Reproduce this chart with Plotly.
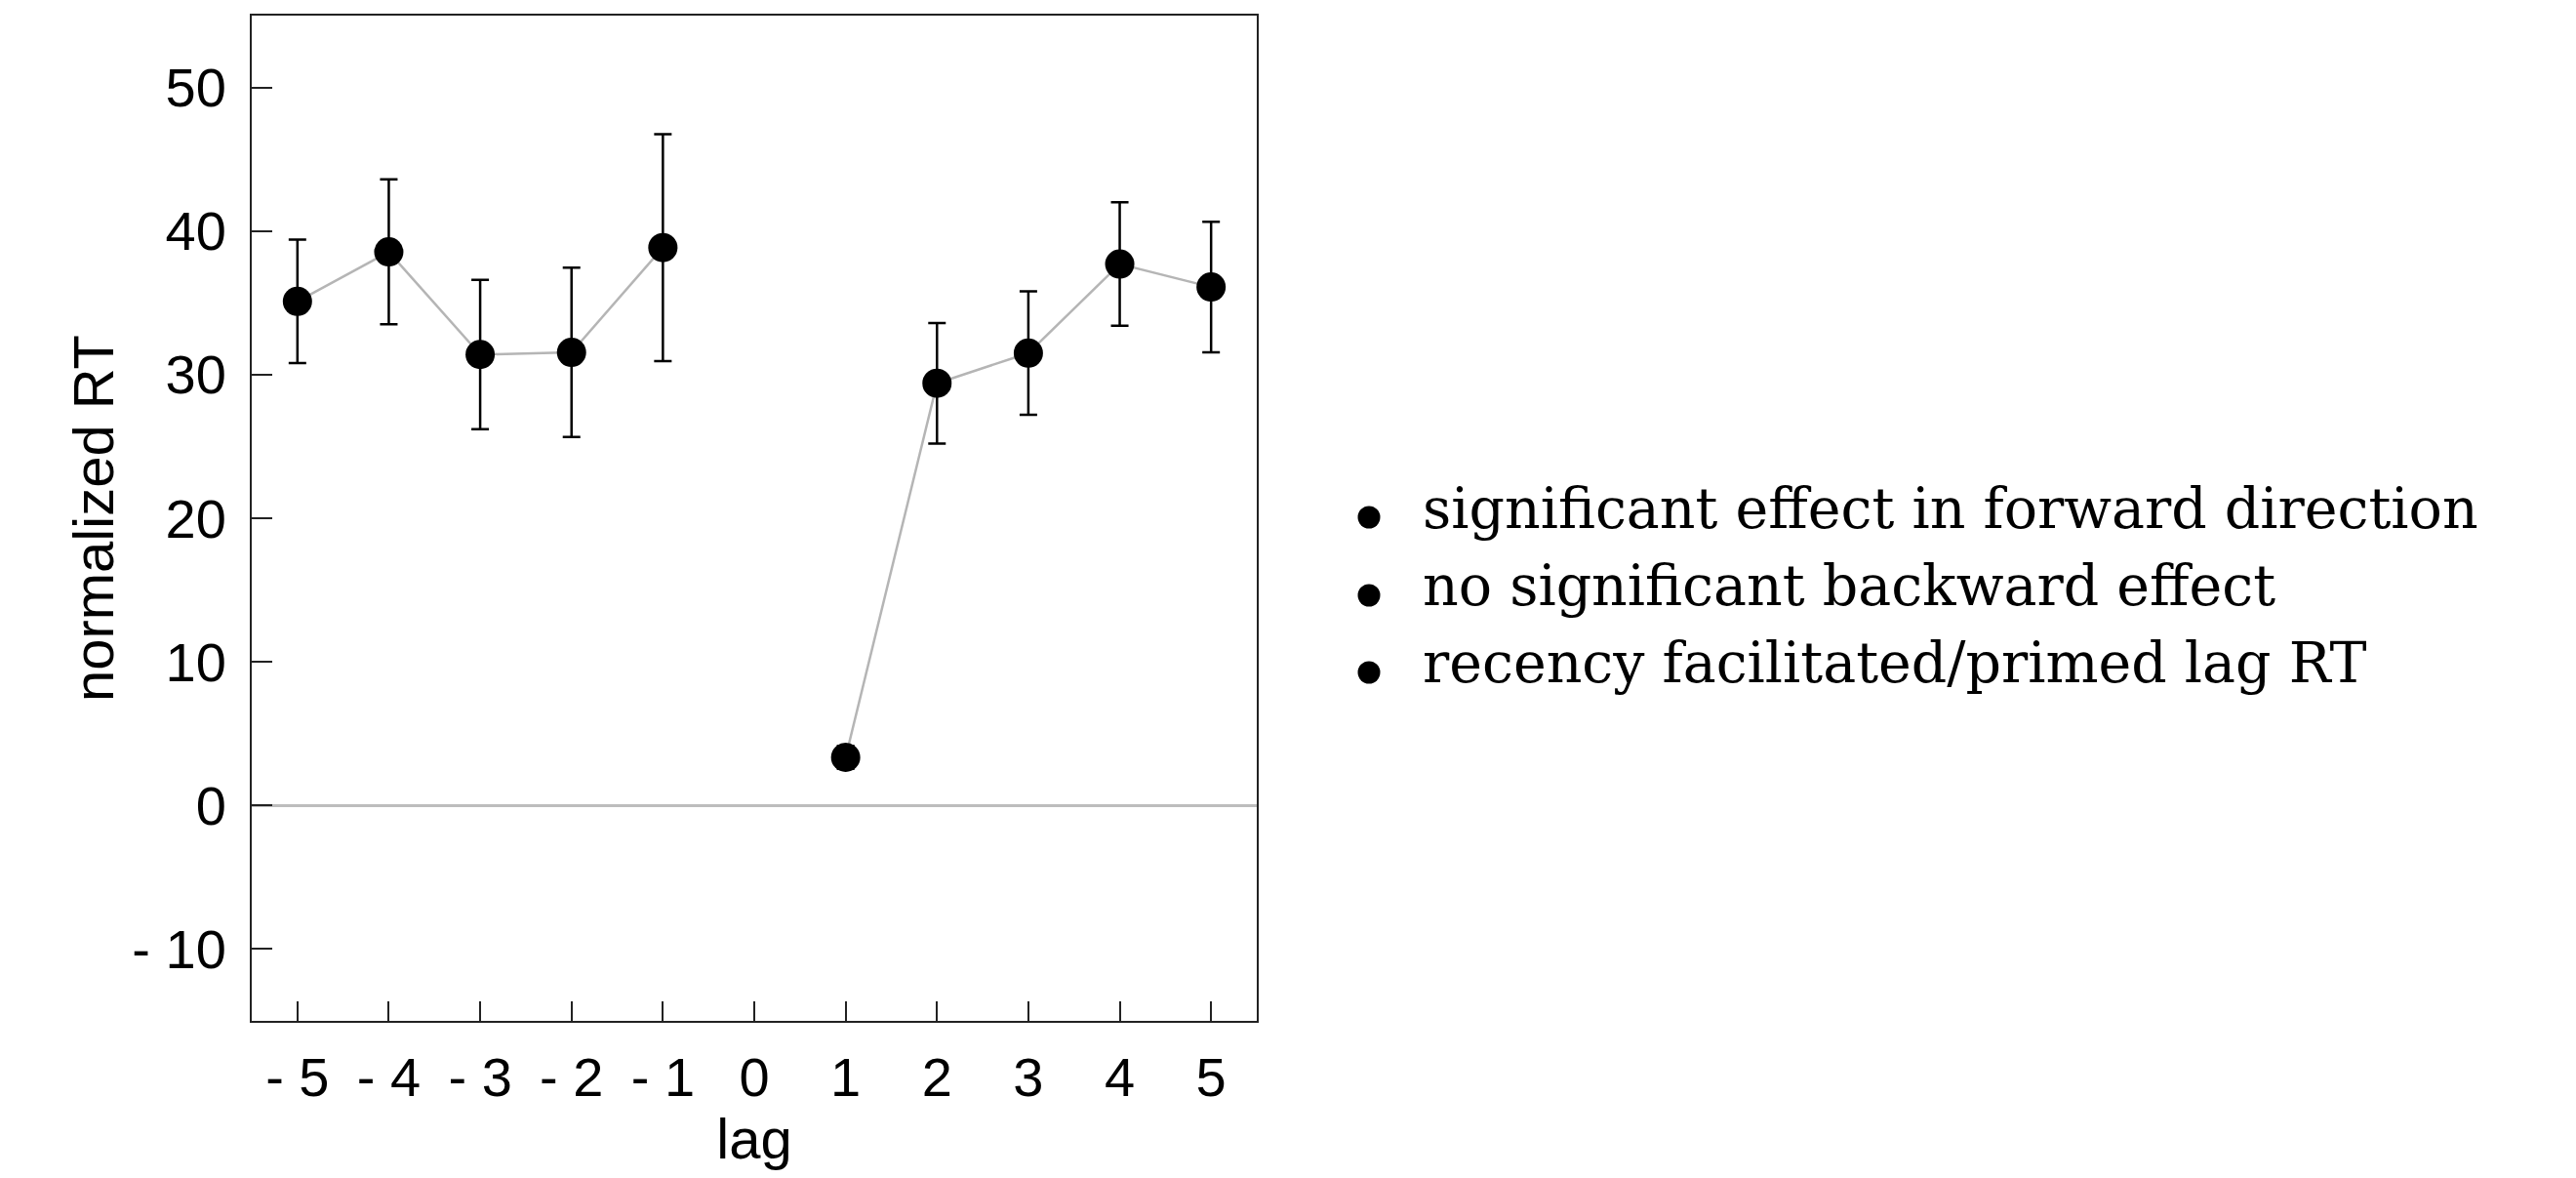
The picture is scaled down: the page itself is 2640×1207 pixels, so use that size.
import plotly.graph_objects as go

# ---- data ----
lags = [-5, -4, -3, -2, -1, 0, 1, 2, 3, 4, 5]
lag_labels = ["- 5", "- 4", "- 3", "- 2", "- 1", "0", "1", "2", "3", "4", "5"]
rt_mean = [35.1, 38.55, 31.4, 31.55, 38.85, None, 3.35, 29.4, 31.5, 37.7, 36.1]
rt_err = [4.3, 5.05, 5.2, 5.9, 7.9, None, 0.8, 4.2, 4.3, 4.3, 4.55]
y_ticks = [-10, 0, 10, 20, 30, 40, 50]
y_tick_labels = ["- 10", "0", "10", "20", "30", "40", "50"]
notes = [
    "significant effect in forward direction",
    "no significant backward effect",
    "recency facilitated/primed lag RT",
]

# page geometry (the page body has an 8px margin)
OFF = 8
PAGE_W, PAGE_H = 2640, 1207
W, H = PAGE_W - 2 * OFF, PAGE_H - 2 * OFF
L, R, T, B = 258, 1288, 16, 1046          # plot area in page pixels
PW, PH = R - L, B - T

SANS = "Arial, 'Liberation Sans', sans-serif"
SERIF = "'DejaVu Serif', serif"


def px_x(p):
    return (p - L) / PW


def px_y(p):
    return (B - p) / PH


fig = go.Figure()
fig.add_trace(go.Scatter(
    x=lags, y=rt_mean,
    mode="lines+markers",
    line=dict(color="#b5b5b5", width=2.5),
    marker=dict(color="black", size=30),
    error_y=dict(type="data", array=rt_err, visible=True,
                 color="black", thickness=2.5, width=9),
    connectgaps=False,
    showlegend=False,
    hoverinfo="x+y",
))

annotations = []
shapes = []
text_y = [521, 600, 679]
bullet_y = [530, 610, 689]
for txt, ty, by in zip(notes, text_y, bullet_y):
    annotations.append(dict(
        xref="paper", yref="paper", x=px_x(1456), y=px_y(ty),
        text=txt, showarrow=False, xanchor="left", yanchor="middle",
        font=dict(family=SERIF, size=57, color="black"),
    ))
    shapes.append(dict(
        type="circle", xref="paper", yref="paper",
        xsizemode="pixel", ysizemode="pixel",
        xanchor=px_x(1403), yanchor=px_y(by),
        x0=-11.5, x1=11.5, y0=-11.5, y1=11.5,
        fillcolor="black", line=dict(width=0),
    ))

fig.update_layout(
    width=W, height=H,
    margin=dict(l=L - OFF, r=W - (R - OFF), t=T - OFF, b=H - (B - OFF), pad=0),
    paper_bgcolor="white", plot_bgcolor="white",
    font=dict(family=SANS, size=56, color="black"),
    annotations=annotations,
    shapes=shapes,
    xaxis=dict(
        range=[-5.5, 5.5],
        tickmode="array", tickvals=lags, ticktext=lag_labels,
        ticks="inside", ticklen=20, tickwidth=2, tickcolor="#222",
        showline=True, linecolor="#222", linewidth=2, mirror=True,
        showgrid=False, zeroline=False,
        tickfont=dict(family=SANS, size=56),
        ticklabelstandoff=8,
        title=dict(text="lag", font=dict(family=SANS, size=58), standoff=14),
        automargin=False,
    ),
    yaxis=dict(
        range=[-15, 55],
        tickmode="array", tickvals=y_ticks, ticktext=y_tick_labels,
        ticks="inside", ticklen=21, tickwidth=2, tickcolor="#222",
        showline=True, linecolor="#222", linewidth=2, mirror=True,
        showgrid=False,
        zeroline=True, zerolinecolor="#bdbdbd", zerolinewidth=2.5,
        tickfont=dict(family=SANS, size=56),
        ticklabelstandoff=13,
        title=dict(text="normalized RT", font=dict(family=SANS, size=58), standoff=0),
        automargin=False,
    ),
)

fig.write_html("out.html")
